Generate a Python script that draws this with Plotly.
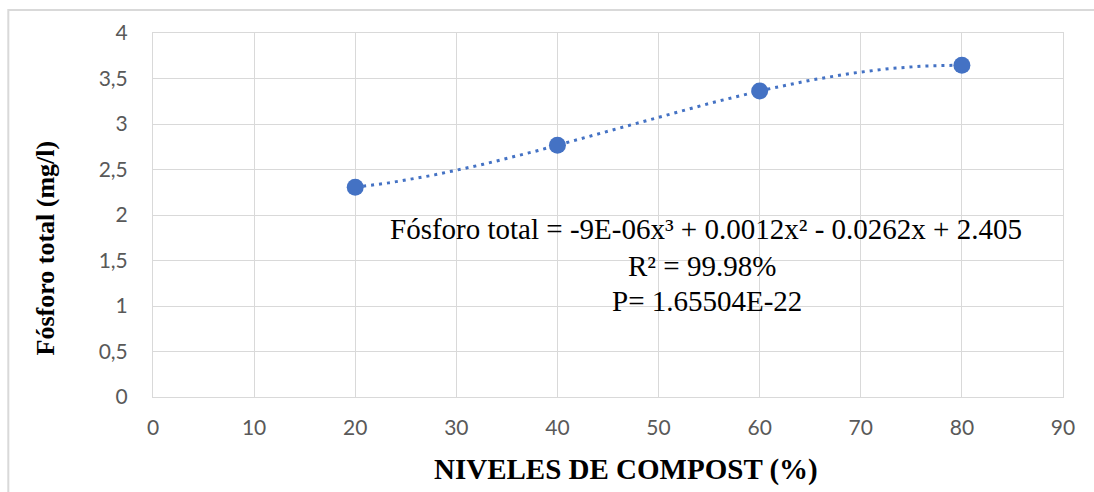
import numpy as np
import plotly.graph_objects as go

# Compost level (%) and measured total phosphorus (mg/l)
niveles = [20, 40, 60, 80]
fosforo = [2.305, 2.766, 3.363, 3.645]

x_ticks = [0, 10, 20, 30, 40, 50, 60, 70, 80, 90]
y_ticks = [0, 0.5, 1, 1.5, 2, 2.5, 3, 3.5, 4]

eq_text = "Fósforo total = -9E-06x³ + 0.0012x² - 0.0262x + 2.405"
r2_text = "R² = 99.98%"
p_text = "P= 1.65504E-22"

BLUE = "#4472C4"
GRID = "#D9D9D9"
TICK = "#595959"

# Third-order polynomial trendline fitted to the measurements
coef = np.polyfit(niveles, fosforo, 3)
xs = np.linspace(min(niveles), max(niveles), 200)
ys = np.polyval(coef, xs)

fig = go.Figure()
fig.add_trace(go.Scatter(
    x=xs, y=ys, mode="lines",
    line=dict(color=BLUE, width=3, dash="3px,5px"),
    hoverinfo="skip", showlegend=False,
))
fig.add_trace(go.Scatter(
    x=niveles, y=fosforo, mode="markers",
    marker=dict(color=BLUE, size=17),
    showlegend=False,
))

axis_common = dict(
    showgrid=True, gridcolor=GRID, gridwidth=1,
    showline=True, linecolor=GRID, linewidth=1, mirror=True,
    zeroline=False, ticks="",
    tickfont=dict(family="Lato", size=21, color=TICK),
)

fig.update_xaxes(range=[0, 90], tickvals=x_ticks, ticklabelstandoff=12, **axis_common)
fig.update_yaxes(range=[0, 4], tickvals=y_ticks, ticklabelstandoff=20, **axis_common)

serif = "Liberation Serif"
annotations = [
    dict(text="<b>NIVELES DE COMPOST (%)</b>", x=0.52, y=-0.2005,
         font=dict(family=serif, size=29, color="black")),
    dict(text="<b>Fósforo total (mg/l)</b>", x=-0.1183, y=0.409, textangle=-90,
         font=dict(family=serif, size=26, color="black")),
    dict(text=eq_text, x=0.608, y=0.462,
         font=dict(family=serif, size=29, color="black")),
    dict(text=r2_text, x=0.603, y=0.36,
         font=dict(family=serif, size=29, color="black")),
    dict(text=p_text, x=0.609, y=0.264,
         font=dict(family=serif, size=29, color="black")),
]
for a in annotations:
    a.update(xref="paper", yref="paper", showarrow=False,
             xanchor="center", yanchor="middle")

fig.update_layout(
    width=1094, height=492,
    margin=dict(l=153, r=31, t=33, b=95),
    paper_bgcolor="white", plot_bgcolor="white",
    separators=", ",
    annotations=annotations,
    shapes=[dict(
        type="rect", xref="paper", yref="paper",
        x0=-0.159, x1=1.045, y0=-0.3, y1=1.063,
        line=dict(color=GRID, width=2), layer="below",
    )],
)

fig.write_html("out.html")
